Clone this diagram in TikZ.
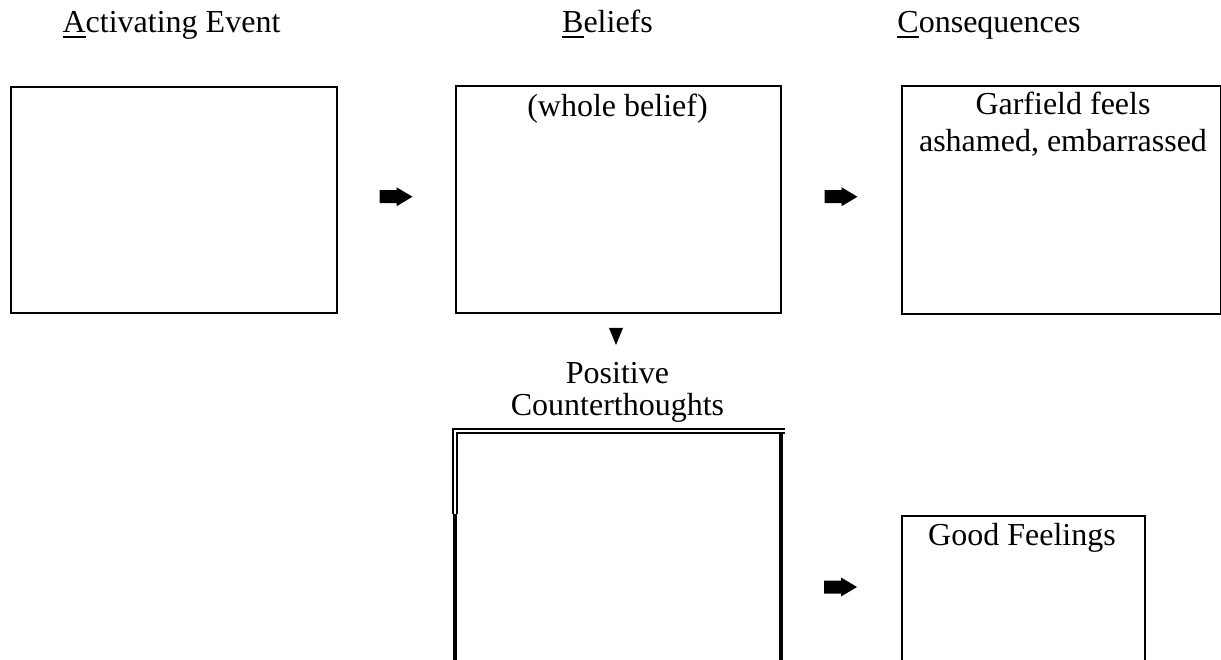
\documentclass[tikz,border=0pt]{standalone}
\usepackage{fontspec}
\setmainfont{Liberation Serif}
\usetikzlibrary{calc}
% underlined initial letter of a heading
\newcommand{\initial}[1]{\setbox0\hbox{#1}\rlap{\rule[-5pt]{\wd0}{1.8pt}}\box0}
\begin{document}
\begin{tikzpicture}[x=1pt,y=-1pt,
  box/.style={draw,line width=2pt,inner sep=0pt,anchor=north west},
  area/.style={inner sep=0pt,anchor=north west},
  lbl/.style={font=\fontsize{32pt}{37pt}\selectfont,inner sep=0pt,anchor=base},
  thin2/.style={line width=1.7pt},
  thick4/.style={line width=4pt},
  blockarrow/.pic={\fill (-17,-6.5) -- (0,-6.5) -- (0,-9.5) -- (16,0) -- (0,9.5) -- (0,6.5) -- (-17,6.5) -- cycle;},
  downtri/.pic={\fill (-7,-8.5) -- (7,-8.5) -- (0,8.5) -- cycle;}]
\useasboundingbox (0,0) rectangle (1221,660);

% headings
\node[lbl] (tA) at (171.5,33) {\initial{A}ctivating Event};
\node[lbl] (tB) at (607.5,33) {\initial{B}eliefs};
\node[lbl] (tC) at (989,33) {\initial{C}onsequences};

% top row of boxes
\node[box,minimum width=326pt,minimum height=226pt] (A) at (10,86) {};
\node[box,minimum width=325pt,minimum height=227pt] (B) at (455,85) {};
\node[box,minimum width=319pt,minimum height=228pt] (C) at (901,85) {};

\node[lbl] (b1) at (617.5,117) {(whole belief)};
\node[lbl] (c1) at (1063,115) {Garfield feels};
\node[lbl] (c2) at (1063,152) {ashamed, embarrassed};

% arrows between the top boxes
\coordinate (ab) at ($(A.east)!.5!(B.west)+(0,-3)$);
\coordinate (bc) at ($(B.east)!.5!(C.west)+(0,-3)$);
\pic at (ab) {blockarrow};
\pic at (bc) {blockarrow};

% from beliefs down to counterthoughts
\pic at (616,336.5) {downtri};
\node[lbl] (p1) at (617.5,383) {Positive};
\node[lbl] (p2) at (617.5,415) {Counterthoughts};

% counterthoughts box with its partly double border
\node[area,minimum width=326pt,minimum height=240pt] (D) at (455,431) {};
\draw[thin2] (453,514) -- (453,429) -- (785,429);
\draw[thin2] (457,514) -- (457,433) -- (785,433);
\draw[thick4] (455,514) -- (455,670);
\draw[thick4] (781,433) -- (781,670);

% good feelings box
\node[box,minimum width=243pt,minimum height=200pt] (E) at (901,515) {};
\node[lbl] (e1) at (1022,545) {Good Feelings};

\coordinate (de) at (841,587);
\pic at (de) {blockarrow};
\end{tikzpicture}
\end{document}
